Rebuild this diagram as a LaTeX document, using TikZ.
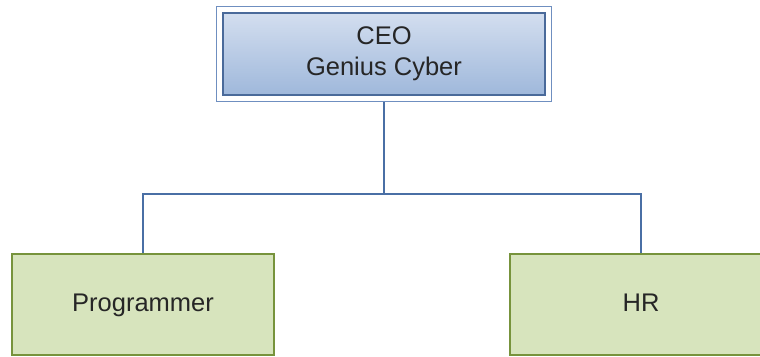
\documentclass[tikz,border=0pt]{standalone}
\usepackage{fontspec}
\setmainfont{Liberation Sans}
\usetikzlibrary{fit}
\definecolor{ceotop}{HTML}{D3DEEF}
\definecolor{ceobot}{HTML}{9FB8DB}
\definecolor{ceoline}{HTML}{4A6A9A}
\definecolor{frameline}{HTML}{6F8FC0}
\definecolor{staffill}{HTML}{D7E4BD}
\definecolor{staffline}{HTML}{77933C}
\definecolor{busline}{HTML}{4A6FA5}
\begin{document}
\begin{tikzpicture}[x=1pt,y=-1pt,
        headbox/.style={draw=ceoline, line width=1.5pt, top color=ceotop, bottom color=ceobot,
            minimum width=322pt, minimum height=82pt, align=center, text=black!85,
            font=\fontsize{25.5}{31}\selectfont},
        headframe/.style={draw=frameline, line width=1pt, inner sep=6pt},
        staffbox/.style={draw=staffline, line width=2pt, fill=staffill,
            minimum width=262pt, minimum height=101pt, text=black!85,
            text height=18pt, text depth=5pt, font=\fontsize{25.5}{31}\selectfont},
        wire/.style={draw=busline, line width=1.2pt}]
            \useasboundingbox (0,0) rectangle (760,356);
            \node[headbox] (ceo) at (384,54) {CEO\\Genius Cyber};
            \node[headframe, fit=(ceo)] (ceoframe) {};
            \node[staffbox] (prog) at (143,304.5) {Programmer};
            \node[staffbox] (hr) at (641,304.5) {HR};
            \coordinate (bus) at (384,194);
            \draw[wire] (ceoframe.south) -- (bus) -| (prog.north);
            \draw[wire] (bus) -| (hr.north);
        \end{tikzpicture}
\end{document}
